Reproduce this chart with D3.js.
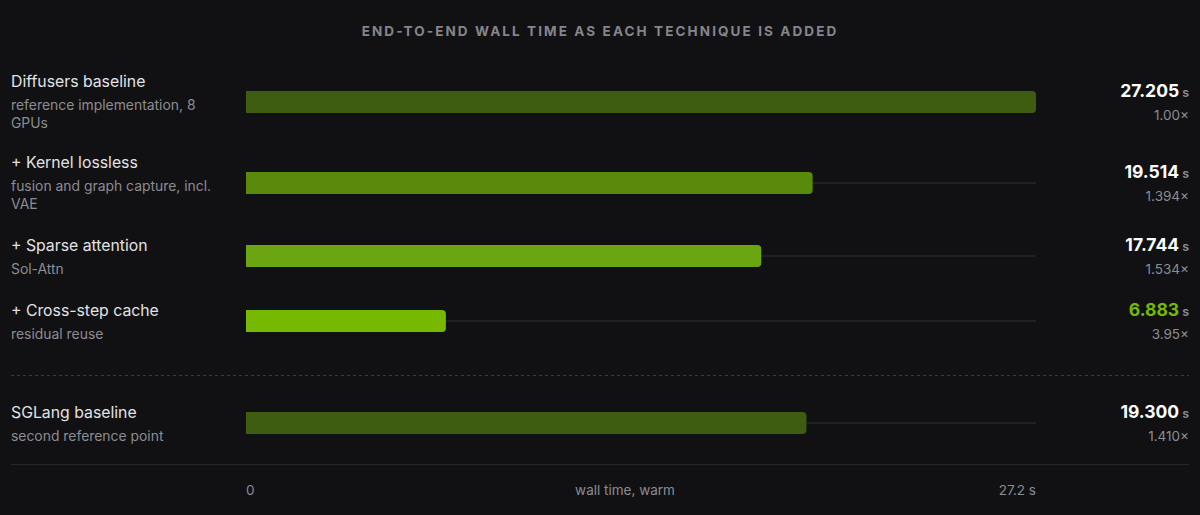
<!DOCTYPE html>
<html>
<head>
<meta charset="utf-8">
<script src="https://cdn.jsdelivr.net/npm/d3@7"></script>
<style>
  html, body { margin: 0; padding: 0; background: #111114; }
  svg { display: block; }
</style>
</head>
<body>
<svg id="chart" width="1200" height="515"></svg>
<script>
const titles = ["Diffusers baseline", "+ Kernel lossless", "+ Sparse attention", "+ Cross-step cache", "SGLang baseline"];
const subtitles = [
  ["reference implementation, 8", "GPUs"],
  ["fusion and graph capture, incl.", "VAE"],
  ["Sol-Attn"],
  ["residual reuse"],
  ["second reference point"]
];
const values = [27.205, 19.514, 17.744, 6.883, 19.300];
const speedups = ["1.00×", "1.394×", "1.534×", "3.95×", "1.410×"];
const barColors = ["#3e5d10", "#5a8a0c", "#6ba512", "#76b900", "#3e5d10"];
const highlight = [false, false, false, true, false];
const tickLabels = ["0", "27.2 s"];
const axisTitle = "wall time, warm";
const chartTitle = "END-TO-END WALL TIME AS EACH TECHNIQUE IS ADDED";

const svg = d3.select("#chart");
const font = "Inter, 'Noto Sans', sans-serif";

svg.append("text")
  .attr("x", 600).attr("y", 36)
  .attr("text-anchor", "middle")
  .attr("fill", "#85858b")
  .attr("font-family", font)
  .attr("font-size", 13.5)
  .attr("font-weight", 700)
  .attr("letter-spacing", 2.1)
  .text(chartTitle);

const x = d3.scaleLinear().domain([0, 27.205]).range([246, 1036]);

const rowCenters = [102, 183, 256, 321, 423];
const barH = 22;

const rows = svg.selectAll("g.row").data(values).enter().append("g").attr("class", "row");

rows.append("line")
  .attr("x1", d => x(d)).attr("x2", x(27.205))
  .attr("y1", (d, i) => rowCenters[i]).attr("y2", (d, i) => rowCenters[i])
  .attr("stroke", "#1f2023").attr("stroke-width", 2);

function barPath(x0, x1, y0, h, r) {
  return `M${x0},${y0} H${x1 - r} Q${x1},${y0} ${x1},${y0 + r} V${y0 + h - r} Q${x1},${y0 + h} ${x1 - r},${y0 + h} H${x0} Z`;
}
rows.append("path")
  .attr("d", (d, i) => barPath(x(0), x(d), rowCenters[i] - barH / 2, barH, 4))
  .attr("fill", (d, i) => barColors[i]);

rows.each(function(d, i) {
  const g = d3.select(this);
  const nSub = subtitles[i].length;
  const blockTop = rowCenters[i] - (nSub === 2 ? 28 : 18);
  g.append("text")
    .attr("x", 11).attr("y", blockTop + 13)
    .attr("fill", "#e2e2e4")
    .attr("font-family", font).attr("font-size", 15.8)
    .text(titles[i]);
  subtitles[i].forEach((s, j) => {
    g.append("text")
      .attr("x", 11).attr("y", blockTop + 36 + j * 18)
      .attr("fill", "#8c8c91")
      .attr("font-family", font).attr("font-size", 13.9)
      .text(s);
  });
  const vt = g.append("text")
    .attr("x", 1189).attr("y", rowCenters[i] - 5)
    .attr("text-anchor", "end")
    .attr("font-family", font);
  vt.append("tspan")
    .attr("font-size", 17.5).attr("font-weight", 700)
    .attr("fill", highlight[i] ? "#76b900" : "#ffffff")
    .text(d3.format(".3f")(d));
  vt.append("tspan")
    .attr("dx", 3)
    .attr("font-size", 12.5).attr("font-weight", 600)
    .attr("fill", "#8c8c91")
    .text("s");
  g.append("text")
    .attr("x", 1189).attr("y", rowCenters[i] + 18)
    .attr("text-anchor", "end")
    .attr("font-family", font).attr("font-size", 13.5)
    .attr("fill", "#8c8c91")
    .text(speedups[i]);
});

svg.append("line")
  .attr("x1", 11).attr("x2", 1189).attr("y1", 375.5).attr("y2", 375.5)
  .attr("stroke", "#3a3b3f").attr("stroke-width", 1).attr("stroke-dasharray", "3,3");

svg.append("line")
  .attr("x1", 11).attr("x2", 1189).attr("y1", 464.5).attr("y2", 464.5)
  .attr("stroke", "#26272a").attr("stroke-width", 1);

svg.append("text")
  .attr("x", x(0)).attr("y", 495)
  .attr("fill", "#8c8c91").attr("font-family", font).attr("font-size", 13.5)
  .text(tickLabels[0]);
svg.append("text")
  .attr("x", x(27.205)).attr("y", 495).attr("text-anchor", "end")
  .attr("fill", "#8c8c91").attr("font-family", font).attr("font-size", 13.5)
  .text(tickLabels[1]);
svg.append("text")
  .attr("x", 625).attr("y", 495).attr("text-anchor", "middle")
  .attr("fill", "#8c8c91").attr("font-family", font).attr("font-size", 13.5)
  .text(axisTitle);
</script>
</body>
</html>
